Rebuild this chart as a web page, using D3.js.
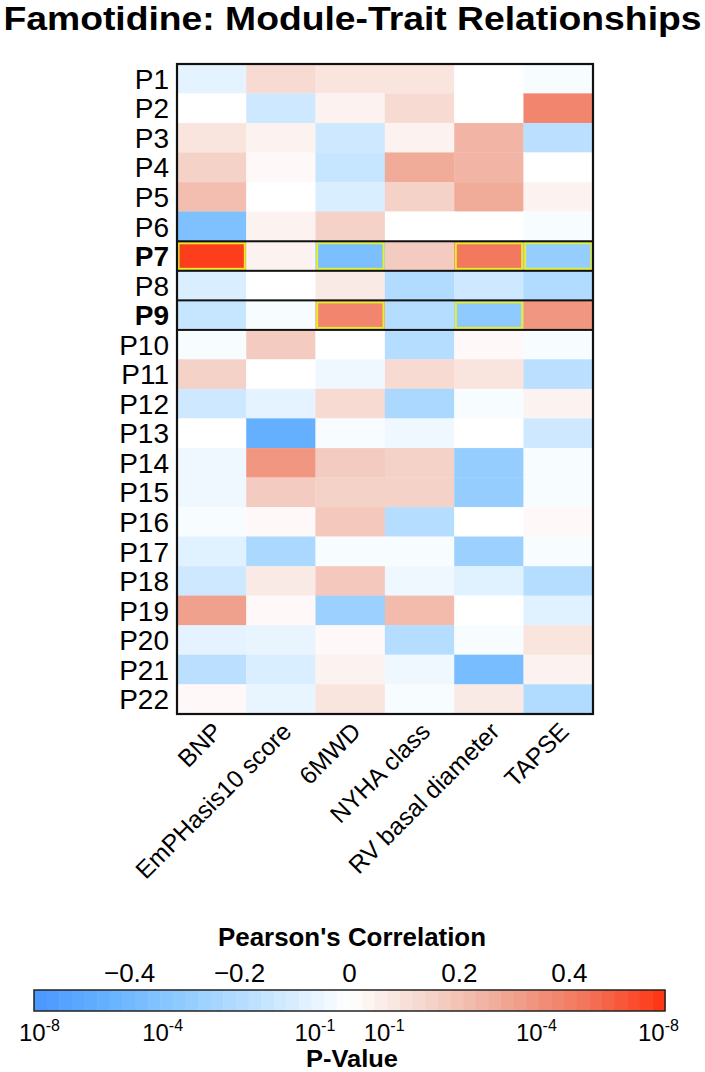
<!DOCTYPE html>
<html><head><meta charset="utf-8">
<script src="https://cdn.jsdelivr.net/npm/d3@7"></script>
<style>body{margin:0;background:#fff}svg{display:block}</style>
</head><body>
<svg id="c" width="705" height="1072"></svg>
<script>
const modules = ["P1","P2","P3","P4","P5","P6","P7","P8","P9","P10","P11","P12","P13","P14","P15","P16","P17","P18","P19","P20","P21","P22"];
const traits = ["BNP","EmPHasis10 score","6MWD","NYHA class","RV basal diameter","TAPSE"];
const bnp      = [-0.07,0.00,0.09,0.15,0.21,-0.36,0.55,-0.10,-0.15,-0.02,0.15,-0.13,0.00,-0.04,-0.04,-0.02,-0.08,-0.13,0.30,-0.07,-0.18,0.02];
const emphasis = [0.12,-0.13,0.04,0.02,0.00,0.04,0.04,0.00,-0.02,0.17,0.00,-0.07,-0.45,0.33,0.17,0.02,-0.23,0.07,0.02,-0.06,-0.10,-0.06];
const mwd      = [0.09,0.04,-0.13,-0.15,-0.10,0.15,-0.37,0.07,0.38,0.00,-0.04,0.12,-0.02,0.17,0.15,0.18,-0.02,0.18,-0.27,0.02,0.04,0.09];
const nyha     = [0.09,0.12,0.04,0.27,0.15,0.00,0.17,-0.21,-0.20,-0.20,0.12,-0.23,-0.04,0.15,0.15,-0.20,-0.02,-0.04,0.22,-0.20,-0.04,-0.02];
const rvbasal  = [0.00,0.00,0.24,0.24,0.27,0.00,0.42,-0.13,-0.31,0.02,0.09,-0.02,0.00,-0.29,-0.29,0.00,-0.27,-0.08,0.00,-0.02,-0.38,0.07];
const tapse    = [-0.02,0.38,-0.18,0.00,0.04,-0.02,-0.29,-0.21,0.33,-0.02,-0.18,0.04,-0.13,-0.02,-0.02,0.02,-0.02,-0.20,-0.08,0.09,0.04,-0.21];
const seriesByTrait = [bnp, emphasis, mwd, nyha, rvbasal, tapse];
const boldModules = ["P7","P9"];
const highlighted = [["P7","BNP"],["P7","6MWD"],["P7","RV basal diameter"],["P7","TAPSE"],["P9","6MWD"],["P9","RV basal diameter"]];
const corrTicks = [-0.4,-0.2,0,0.2,0.4];
const corrTickLabels = ["\u22120.4","\u22120.2","0","0.2","0.4"];
const pTickR = [-0.564,-0.34,-0.063,0.063,0.34,0.562];
const pTickExp = ["-8","-4","-1","-1","-4","-8"];
const rMax = 0.574;

const svg = d3.select("#c");
const sans = "'Liberation Sans', Arial, Helvetica, sans-serif";

// diverging palette (position 0 = white centre, 1 = saturated end)
const stopPos = [0, 0.25, 0.5, 0.75, 1];
const blueStops = ["#ffffff", "#c8e6ff", "#96ceff", "#68b4ff", "#4896ff"];
const redStops  = ["#ffffff", "#f5d4ca", "#f0a592", "#f2745a", "#ff3311"];
const colorNeg = d3.scaleLinear().domain(stopPos).range(blueStops).interpolate(d3.interpolateRgb);
const colorPos = d3.scaleLinear().domain(stopPos).range(redStops).interpolate(d3.interpolateRgb);
const color = v => v >= 0 ? colorPos(Math.min(1, v / rMax)) : colorNeg(Math.min(1, -v / rMax));

// Title
svg.append("text").attr("x", 352.5).attr("y", 30).attr("text-anchor", "middle")
  .attr("font-family", sans).attr("font-weight", "bold").attr("font-size", 34)
  .attr("textLength", 698).attr("lengthAdjust", "spacingAndGlyphs")
  .text("Famotidine: Module-Trait Relationships");

const x = d3.scaleBand().domain(traits).range([177, 593]);
const y = d3.scaleBand().domain(modules).range([64, 714]);

const cells = [];
modules.forEach((m, i) => traits.forEach((t, j) => cells.push({m, t, v: seriesByTrait[j][i]})));

svg.append("g").selectAll("rect").data(cells).join("rect")
  .attr("x", d => x(d.t)).attr("y", d => y(d.m))
  .attr("width", x.bandwidth()).attr("height", y.bandwidth())
  .attr("fill", d => color(d.v))
  .attr("stroke", d => color(d.v)).attr("stroke-width", 0.3);

// yellow highlights
svg.append("g").selectAll("rect").data(highlighted).join("rect")
  .attr("x", d => x(d[1]) + 1.5).attr("y", d => y(d[0]) + 2)
  .attr("width", x.bandwidth() - 3).attr("height", y.bandwidth() - 4)
  .attr("fill", "none").attr("stroke", "#e6ef2a").attr("stroke-width", 2);

// bold row boxes
svg.append("g").selectAll("rect").data(boldModules).join("rect")
  .attr("x", 177).attr("y", d => y(d))
  .attr("width", 416).attr("height", y.bandwidth())
  .attr("fill", "none").attr("stroke", "#111").attr("stroke-width", 2);

// outer frame
svg.append("rect").attr("x", 177).attr("y", 64).attr("width", 416).attr("height", 650)
  .attr("fill", "none").attr("stroke", "#111").attr("stroke-width", 2.2);

// row labels
svg.append("g").selectAll("text").data(modules).join("text")
  .attr("x", 169).attr("y", d => y(d) + y.bandwidth() / 2 + 10)
  .attr("text-anchor", "end").attr("font-family", sans).attr("font-size", 28)
  .attr("font-weight", d => boldModules.includes(d) ? "bold" : "normal")
  .text(d => d);

// column labels
svg.append("g").selectAll("text").data(traits).join("text")
  .attr("transform", d => `translate(${x(d) + x.bandwidth() / 2 + 12},${733}) rotate(-45)`)
  .attr("text-anchor", "end").attr("font-family", sans).attr("font-size", 24.5)
  .text(d => d);

// legend
const lx = d3.scaleLinear().domain([-rMax, rMax]).range([34, 665]);
svg.append("text").attr("x", 352).attr("y", 946).attr("text-anchor", "middle")
  .attr("font-family", sans).attr("font-weight", "bold").attr("font-size", 26)
  .attr("textLength", 268).attr("lengthAdjust", "spacingAndGlyphs")
  .text("Pearson's Correlation");

svg.append("g").selectAll("text").data(corrTicks).join("text")
  .attr("x", d => lx(d)).attr("y", 982).attr("text-anchor", "middle")
  .attr("font-family", sans).attr("font-size", 26)
  .text((d, i) => corrTickLabels[i]);

const nSteps = 50;
const steps = d3.range(nSteps).map(i => -rMax + (i + 0.5) * 2 * rMax / nSteps);
const sw = (lx(rMax) - lx(-rMax)) / nSteps;
svg.append("g").selectAll("rect").data(steps).join("rect")
  .attr("x", d => lx(d) - sw / 2).attr("y", 990).attr("width", sw + 0.5).attr("height", 21)
  .attr("fill", d => color(d));
svg.append("rect").attr("x", 34).attr("y", 990).attr("width", 631).attr("height", 21)
  .attr("fill", "none").attr("stroke", "#222").attr("stroke-width", 1.5);

const pt = svg.append("g").selectAll("text").data(pTickR).join("text")
  .attr("x", d => lx(d)).attr("y", 1041).attr("text-anchor", "middle")
  .attr("font-family", sans).attr("font-size", 24);
pt.append("tspan").text("10");
pt.append("tspan").attr("dy", -10).attr("font-size", 16).text((d, i) => pTickExp[i]);

svg.append("text").attr("x", 352).attr("y", 1067).attr("text-anchor", "middle")
  .attr("font-family", sans).attr("font-weight", "bold").attr("font-size", 24)
  .attr("textLength", 92).attr("lengthAdjust", "spacingAndGlyphs")
  .text("P-Value");
</script>
</body></html>
